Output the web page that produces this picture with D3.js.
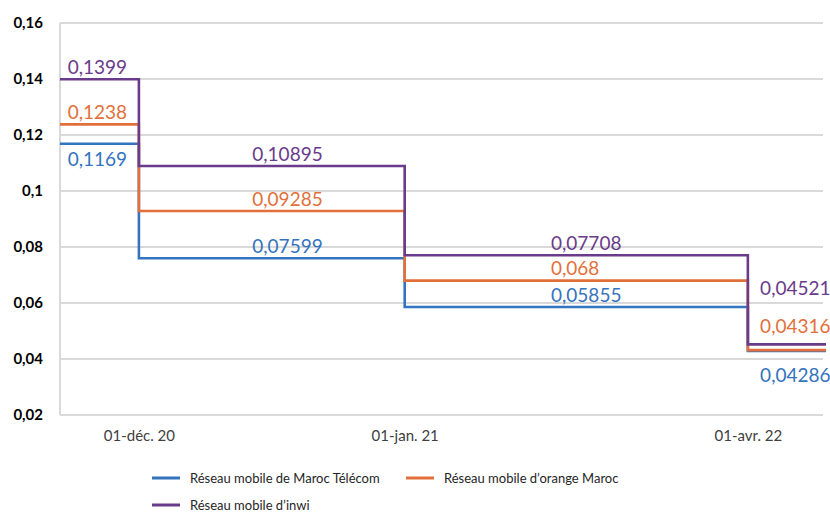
<!DOCTYPE html>
<html>
<head>
<meta charset="utf-8">
<script src="https://cdn.jsdelivr.net/npm/d3@7"></script>
<style>
  html, body { margin: 0; padding: 0; background: #fff; }
  svg { display: block; font-family: Lato, "Open Sans", sans-serif; }
</style>
</head>
<body>
<svg id="chart" width="830" height="512"></svg>
<script>
// Tariff periods (step start positions on the x axis, in period units)
const periodLabels = ["01-déc. 20", "01-jan. 21", "01-avr. 22"];
const periodStart = [1.03, 4.5, 8.98];
const rangeStart = 0;
const rangeEnd = 10;

// Series names and values for each step (initial level, then after each period)
const seriesNames = [
  "Réseau mobile de Maroc Télécom",
  "Réseau mobile d’orange Maroc",
  "Réseau mobile d’inwi"
];
const iamValues = [0.1169, 0.07599, 0.05855, 0.04286];
const orangeValues = [0.1238, 0.09285, 0.068, 0.04316];
const inwiValues = [0.1399, 0.10895, 0.07708, 0.04521];

const yTicks = [0.02, 0.04, 0.06, 0.08, 0.1, 0.12, 0.14, 0.16];

const colors = ["#3473BE", "#E2703A", "#6A3B8B"];
const seriesValues = [iamValues, orangeValues, inwiValues];

const svg = d3.select("#chart");
const margin = { left: 60, right: 4, top: 23, bottom: 97 };
const W = 830, H = 512;

const x = d3.scaleLinear().domain([rangeStart, rangeEnd]).range([margin.left, W - margin.right]);
const y = d3.scaleLinear().domain([0.02, 0.16]).range([H - margin.bottom, margin.top]);

const fmt = v => String(v).replace(".", ",");

// Horizontal gridlines
svg.append("g")
  .selectAll("line")
  .data(yTicks)
  .join("line")
  .attr("x1", margin.left)
  .attr("x2", x(rangeEnd) - 3)
  .attr("y1", d => y(d))
  .attr("y2", d => y(d))
  .attr("stroke", "#D9D9D9")
  .attr("stroke-width", 2);

// Vertical axis line
svg.append("line")
  .attr("x1", margin.left).attr("x2", margin.left)
  .attr("y1", y(0.16)).attr("y2", y(0.02))
  .attr("stroke", "#D9D9D9").attr("stroke-width", 2);

// Y axis tick labels
const yAxis = d3.axisLeft(y).tickValues(yTicks).tickSize(0).tickPadding(17).tickFormat(fmt);
const gy = svg.append("g").attr("transform", `translate(${margin.left},0)`).call(yAxis);
gy.select(".domain").remove();
gy.selectAll("text")
  .attr("font-family", "Lato, sans-serif")
  .attr("font-size", 15)
  .attr("font-weight", "bold")
  .attr("fill", "#000");

// X axis labels at period starts
const xAxis = d3.axisBottom(x).tickValues(periodStart).tickSize(0).tickPadding(15)
  .tickFormat((d, i) => periodLabels[i]);
const gx = svg.append("g").attr("transform", `translate(0,${y(0.02)})`).call(xAxis);
gx.select(".domain").remove();
gx.selectAll("text")
  .attr("font-family", "Lato, sans-serif")
  .attr("font-size", 15)
  .attr("fill", "#404040");

// Step lines: each value holds from its breakpoint to the next one
const breaks = [rangeStart, ...periodStart, rangeEnd];
const stepLine = d3.line()
  .x(d => x(d[0]))
  .y(d => y(d[1]))
  .curve(d3.curveStepAfter);

seriesValues.forEach((vals, s) => {
  const pts = vals.map((v, i) => [breaks[i], v]);
  pts.push([breaks[breaks.length - 1], vals[vals.length - 1]]);
  svg.append("path")
    .datum(pts)
    .attr("fill", "none")
    .attr("stroke", colors[s])
    .attr("stroke-width", 2.6)
    .attr("d", stepLine);
});

// Value labels: start offset within each step and vertical nudge per series
const labelStartOffset = [0.1, 1.48, 1.91, 0.16];
const labelNudge = [
  [16, -12, -12, 24],   // Maroc Télécom
  [-12, -12, -12, -24], // orange
  [-12, -12, -12, -56]  // inwi
];
seriesValues.forEach((vals, s) => {
  svg.append("g")
    .selectAll("text")
    .data(vals)
    .join("text")
    .attr("x", (d, i) => x(breaks[i] + labelStartOffset[i]))
    .attr("y", (d, i) => y(d) + labelNudge[s][i])
    .attr("dy", "0.35em")
    .attr("font-size", 19)
    .attr("fill", colors[s])
    .text(d => fmt(d));
});

// Legend
const legendPos = [[152, 478], [406, 478], [152, 505]];
const lg = svg.append("g");
seriesNames.forEach((name, s) => {
  const [lx, ly] = legendPos[s];
  lg.append("line")
    .attr("x1", lx).attr("x2", lx + 28)
    .attr("y1", ly).attr("y2", ly)
    .attr("stroke", colors[s]).attr("stroke-width", 3);
  lg.append("text")
    .attr("x", lx + 38).attr("y", ly)
    .attr("dy", "0.35em")
    .attr("font-size", 13)
    .attr("fill", "#262626")
    .text(name);
});
</script>
</body>
</html>
